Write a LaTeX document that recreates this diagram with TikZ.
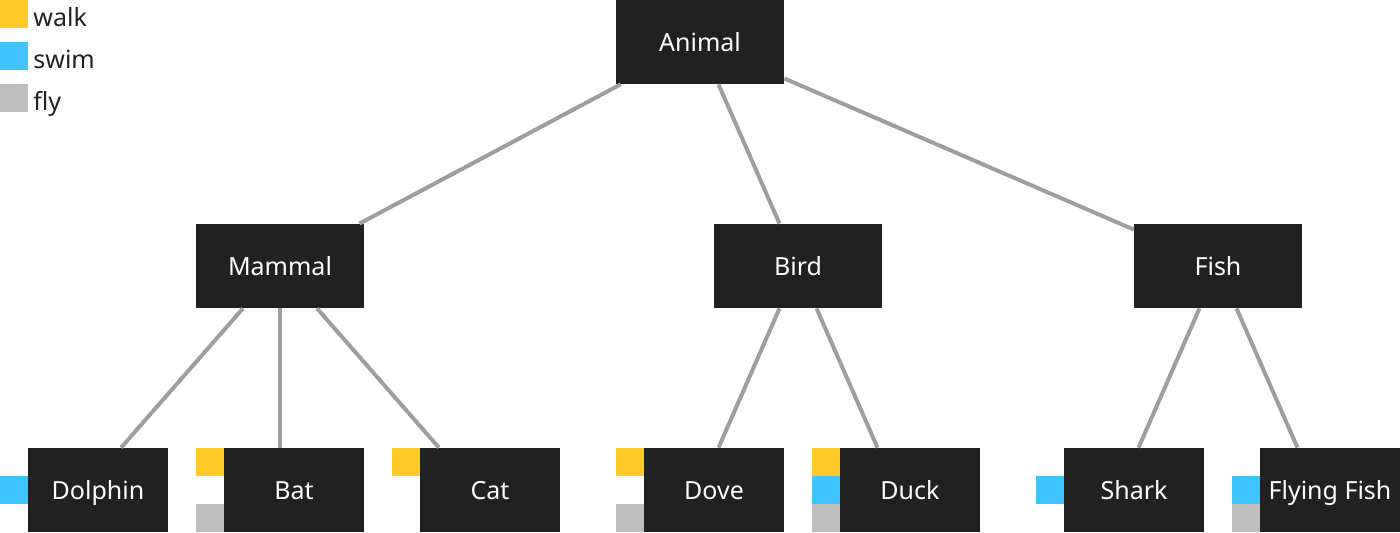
\documentclass[tikz,border=0pt]{standalone}
\usepackage{fontspec}
\setmainfont{Noto Sans}
\usetikzlibrary{positioning}
\definecolor{walkc}{HTML}{FFCA28}
\definecolor{swimc}{HTML}{40C4FF}
\definecolor{flyc}{HTML}{BDBDBD}
\definecolor{boxc}{HTML}{212121}
\definecolor{linkc}{HTML}{9E9E9E}
\tikzset{
	cls/.style={fill=boxc, text=white, minimum width=84pt, minimum height=42pt, inner sep=0pt,
		text height=1em, text depth=0.08em, font=\fontsize{12.5}{15}\selectfont},
	slot/.style={minimum width=84pt, minimum height=42pt, inner sep=0pt},
	leafbox/.style={cls, minimum width=70pt, anchor=east},
	legendtext/.style={anchor=west, inner sep=0pt, text=boxc, text height=1em, text depth=0.08em,
		font=\fontsize{12.5}{15}\selectfont},
	link/.style={draw=linkc, line width=2pt}
}
\begin{document}
\begin{tikzpicture}[x=0.5pt,y=-0.5pt]
\useasboundingbox (0,0) rectangle (1400,532);
%----------------------------
% Legend
%----------------------------
\fill[walkc] (0,0) rectangle (28,28);
\node[legendtext] (walk) at (33,17.5) {walk};
\fill[swimc] (0,42) rectangle (28,70);
\node[legendtext] (swim) at (33,59.5) {swim};
\fill[flyc] (0,84) rectangle (28,112);
\node[legendtext] (fly) at (33,101.5) {fly};

%----------------------------
% Classes
%----------------------------
\node[cls] (animal) at (700,42) {Animal};
\node[cls] (mammal) at (280,266) {Mammal};
\node[cls] (bird) at (798,266) {Bird};
\node[cls] (fish) at (1218,266) {Fish};

%----------------------------
% Leaves (slot = box plus tag column)
%----------------------------
\foreach \n/\x/\t in {dolphin/84/Dolphin, bat/280/Bat, cat/476/Cat, dove/700/Dove,
	duck/896/Duck, shark/1120/Shark, flyfish/1316/Flying Fish}{
	\node[slot] (\n) at (\x,490) {};
	\node[leafbox] (\n box) at (\n.east) {\t};
}

% tags: 0 = walk, 1 = swim, 2 = fly
\foreach \n/\c/\k in {dolphin/swimc/1, bat/walkc/0, bat/flyc/2, cat/walkc/0,
	dove/walkc/0, dove/flyc/2, duck/walkc/0, duck/swimc/1, duck/flyc/2,
	shark/swimc/1, flyfish/swimc/1, flyfish/flyc/2}
	\fill[\c] ([yshift=-\k*14pt]\n.north west) rectangle ++(14pt,-14pt);

%----------------------------
% Links
%----------------------------
\draw[link] (animal) -- (mammal);
\draw[link] (animal) -- (bird);
\draw[link] (animal) -- (fish);
\draw[link] (mammal) -- (dolphin);
\draw[link] (mammal) -- (bat);
\draw[link] (mammal) -- (cat);
\draw[link] (bird) -- (dove);
\draw[link] (bird) -- (duck);
\draw[link] (fish) -- (shark);
\draw[link] (fish) -- (flyfish);
\end{tikzpicture}
\end{document}
